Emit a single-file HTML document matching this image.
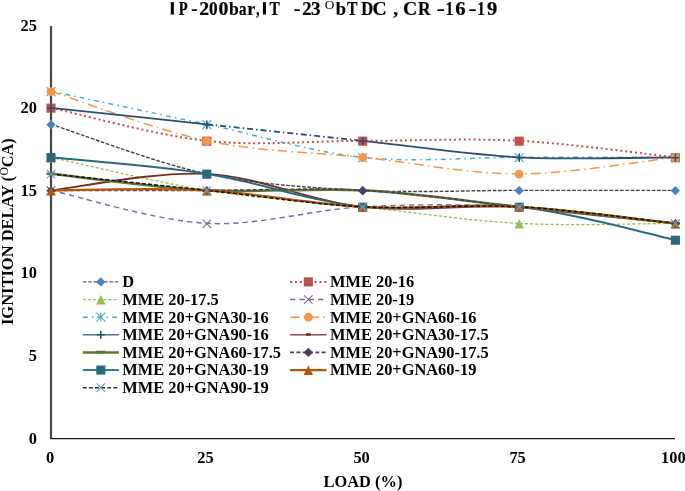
<!DOCTYPE html>
<html><head><meta charset="utf-8"><style>
html,body{margin:0;padding:0;background:#fff;}
svg{display:block;will-change:transform;}
text{font-family:"Liberation Serif",serif;font-weight:bold;fill:#000;}
</style></head><body>
<svg width="685" height="491" viewBox="0 0 685 491">
<rect width="685" height="491" fill="#fff"/>
<!-- title -->
<path d="M170.85,2.2 h3.0 v12.4 h-3.0Z M170.40,2.2 h3.9 v0.9 h-3.9Z M170.40,13.7 h3.9 v0.9 h-3.9Z" fill="#000"/><text transform="translate(178.80,0) scale(0.809,1)" x="0" y="14.8" font-size="18" stroke="#000" stroke-width="0.2">P</text><text transform="translate(192.40,0) scale(1.050,1)" x="-1" y="14.8" font-size="18" stroke="#000" stroke-width="0.2">-</text><text transform="translate(200.30,0) scale(1.100,1)" x="-1" y="14.8" font-size="18" stroke="#000" stroke-width="0.2">2</text><text transform="translate(210.00,0) scale(0.957,1)" x="-1" y="14.8" font-size="18" stroke="#000" stroke-width="0.2">0</text><text transform="translate(219.60,0) scale(1.100,1)" x="-1" y="14.8" font-size="18" stroke="#000" stroke-width="0.2">0</text><text transform="translate(230.00,0) scale(0.975,1)" x="-1" y="14.8" font-size="18" stroke="#000" stroke-width="0.2">b</text><text transform="translate(239.90,0) scale(0.825,1)" x="-1" y="14.8" font-size="18" stroke="#000" stroke-width="0.2">a</text><text transform="translate(248.20,0) scale(1.014,1)" x="-1" y="14.8" font-size="18" stroke="#000" stroke-width="0.2">r</text><text transform="translate(256.70,0) scale(0.800,1)" x="-1" y="14.8" font-size="18" stroke="#000" stroke-width="0.2">,</text><path d="M262.95,2.2 h3.0 v12.4 h-3.0Z M262.90,2.2 h3.0999999999999885 v0.9 h-3.0999999999999885Z M262.90,13.7 h3.0999999999999885 v0.9 h-3.0999999999999885Z" fill="#000"/><text transform="translate(269.40,0) scale(0.858,1)" x="0" y="14.8" font-size="18" stroke="#000" stroke-width="0.2">T</text><text transform="translate(294.80,0) scale(1.125,1)" x="-1" y="14.8" font-size="18" stroke="#000" stroke-width="0.2">-</text><text transform="translate(303.40,0) scale(1.043,1)" x="-1" y="14.8" font-size="18" stroke="#000" stroke-width="0.2">2</text><text transform="translate(312.10,0) scale(1.057,1)" x="-1" y="14.8" font-size="18" stroke="#000" stroke-width="0.2">3</text><text transform="translate(336.80,0) scale(1.025,1)" x="-1" y="14.8" font-size="18" stroke="#000" stroke-width="0.2">b</text><text transform="translate(347.00,0) scale(0.875,1)" x="0" y="14.8" font-size="18" stroke="#000" stroke-width="0.2">T</text><text transform="translate(361.30,0) scale(0.917,1)" x="0" y="14.8" font-size="18" stroke="#000" stroke-width="0.2">D</text><text transform="translate(373.60,0) scale(1.091,1)" x="-1" y="14.8" font-size="18" stroke="#000" stroke-width="0.2">C</text><text transform="translate(394.30,0) scale(1.100,1)" x="-1" y="14.8" font-size="18" stroke="#000" stroke-width="0.2">,</text><text transform="translate(404.20,0) scale(1.091,1)" x="-1" y="14.8" font-size="18" stroke="#000" stroke-width="0.2">C</text><text transform="translate(417.90,0) scale(0.969,1)" x="0" y="14.8" font-size="18" stroke="#000" stroke-width="0.2">R</text><text transform="translate(438.20,0) scale(1.350,1)" x="-1" y="14.8" font-size="18" stroke="#000" stroke-width="0.2">-</text><text transform="translate(447.30,0) scale(0.883,1)" x="-2" y="14.8" font-size="18" stroke="#000" stroke-width="0.2">1</text><text transform="translate(456.30,0) scale(1.150,1)" x="-1" y="14.8" font-size="18" stroke="#000" stroke-width="0.2">6</text><text transform="translate(469.90,0) scale(1.350,1)" x="-1" y="14.8" font-size="18" stroke="#000" stroke-width="0.2">-</text><text transform="translate(479.00,0) scale(0.850,1)" x="-2" y="14.8" font-size="18" stroke="#000" stroke-width="0.2">1</text><text transform="translate(488.10,0) scale(1.143,1)" x="-1" y="14.8" font-size="18" stroke="#000" stroke-width="0.2">9</text><text x="324.7" y="9.3" font-size="13.3" style="font-weight:normal">O</text>
<!-- y axis title -->
<text transform="translate(12.6,325) rotate(-90) translate(0.90,0) scale(0.9939,1)" x="-1" y="0" font-size="16.6">IGNITION DELAY (</text><text transform="translate(12.6,325) rotate(-90) translate(158.70,0) scale(0.9821,1)" x="-1" y="0" font-size="16.6">CA)</text><text transform="translate(12.6,325) rotate(-90)" x="149.4" y="-4.6" font-size="11.6" style="font-weight:normal">O</text>
<!-- y tick labels -->
<g font-size="16.4" text-anchor="end">
<text x="37" y="30.75">25</text>
<text x="37" y="113.30">20</text>
<text x="37" y="195.85">15</text>
<text x="37" y="278.40">10</text>
<text x="37" y="360.95">5</text>
<text x="37" y="443.50">0</text>
</g>
<!-- x tick labels -->
<g font-size="16.4" text-anchor="middle">
<text x="50.2" y="463.2">0</text>
<text x="205.4" y="463.2">25</text>
<text x="361.6" y="463.2">50</text>
<text x="517.6" y="463.2">75</text>
<text x="673.3" y="463.2">100</text>
</g>
<text x="323.6" y="486.5" font-size="16.4">LOAD (%)</text>
<!-- axes -->
<line x1="51" y1="26" x2="51" y2="439" stroke="#464646" stroke-width="2.2"/>
<line x1="50" y1="438.55" x2="675" y2="438.55" stroke="#1a1a1a" stroke-width="1.3"/>
<!-- series -->
<path d="M51.00,124.31 C76.97,132.56 154.85,162.83 206.80,173.84 C258.75,184.85 310.63,187.60 362.70,190.35 C414.77,193.10 467.08,190.35 519.20,190.35 C571.32,190.35 649.37,190.35 675.40,190.35" fill="none" stroke="#404040" stroke-width="1.4" stroke-dasharray="3.7 1.6" stroke-linejoin="round"/><path d="M51.00,107.80 C76.97,113.30 154.85,135.32 206.80,140.82 C258.75,146.32 310.63,140.82 362.70,140.82 C414.77,140.82 467.08,138.07 519.20,140.82 C571.32,143.57 649.37,154.58 675.40,157.33" fill="none" stroke="#C0504D" stroke-width="2.0" stroke-dasharray="2 2.9" stroke-linejoin="round"/><path d="M51.00,157.33 C76.97,162.83 154.85,182.09 206.80,190.35 C258.75,198.60 310.63,201.36 362.70,206.86 C414.77,212.36 467.08,220.62 519.20,223.37 C571.32,226.12 649.37,223.37 675.40,223.37" fill="none" stroke="#9BBB59" stroke-width="1.3" stroke-dasharray="3.1 2" stroke-linejoin="round"/><path d="M51.00,190.35 C76.97,195.85 154.85,220.62 206.80,223.37 C258.75,226.12 310.63,209.61 362.70,206.86 C414.77,204.11 467.08,204.11 519.20,206.86 C571.32,209.61 649.37,220.62 675.40,223.37" fill="none" stroke="#8064A2" stroke-width="1.4" stroke-dasharray="5.3 4" stroke-linejoin="round"/><path d="M51.00,91.29 C76.97,96.79 154.85,113.30 206.80,124.31 C258.75,135.32 310.63,151.83 362.70,157.33 C414.77,162.83 467.08,157.33 519.20,157.33 C571.32,157.33 649.37,157.33 675.40,157.33" fill="none" stroke="#4BACC6" stroke-width="1.5" stroke-dasharray="4.8 4.2 1.5 4.2" stroke-linejoin="round"/><path d="M51.00,91.29 C76.97,99.54 154.85,129.81 206.80,140.82 C258.75,151.83 310.63,151.83 362.70,157.33 C414.77,162.83 467.08,173.84 519.20,173.84 C571.32,173.84 649.37,160.08 675.40,157.33" fill="none" stroke="#F79646" stroke-width="1.5" stroke-dasharray="9.5 4.3 1.5 4.3" stroke-linejoin="round"/><path d="M51.00,107.80 C76.97,110.55 154.85,118.81 206.80,124.31" fill="none" stroke="#2C4D75" stroke-width="1.8" stroke-linejoin="round"/><path d="M206.80,124.31 C258.75,129.81 310.63,135.32 362.70,140.82" fill="none" stroke="#2C4D75" stroke-width="1.8" stroke-dasharray="6 3 1.5 3" stroke-linejoin="round"/><path d="M362.70,140.82 C414.77,146.32 467.08,154.58 519.20,157.33 M519.20,157.33 C571.32,160.08 649.37,157.33 675.40,157.33" fill="none" stroke="#2C4D75" stroke-width="1.8" stroke-linejoin="round"/><path d="M51.00,190.35 C76.97,187.60 154.85,171.09 206.80,173.84 C258.75,176.59 310.63,201.36 362.70,206.86 C414.77,212.36 467.08,204.11 519.20,206.86 C571.32,209.61 649.37,220.62 675.40,223.37" fill="none" stroke="#772C2A" stroke-width="1.8" stroke-linejoin="round"/><path d="M51.00,173.84 C76.97,176.59 154.85,187.60 206.80,190.35 C258.75,193.10 310.63,187.60 362.70,190.35 C414.77,193.10 467.08,201.36 519.20,206.86 C571.32,212.36 649.37,220.62 675.40,223.37" fill="none" stroke="#5F7530" stroke-width="2.5" stroke-linejoin="round"/><path d="M51.00,190.35 C76.97,190.35 154.85,190.35 206.80,190.35 C258.75,190.35 310.63,187.60 362.70,190.35 C414.77,193.10 467.08,201.36 519.20,206.86 C571.32,212.36 649.37,220.62 675.40,223.37" fill="none" stroke="#4D3B62" stroke-width="1.6" stroke-dasharray="4 2.3" stroke-linejoin="round"/><path d="M51.00,157.33 C76.97,160.08 154.85,165.58 206.80,173.84 C258.75,182.09 310.63,201.36 362.70,206.86 C414.77,212.36 467.08,201.36 519.20,206.86 C571.32,212.36 649.37,234.38 675.40,239.88" fill="none" stroke="#276A7C" stroke-width="2.0" stroke-linejoin="round"/><path d="M51.00,190.35 C76.97,190.35 154.85,187.60 206.80,190.35 C258.75,193.10 310.63,204.11 362.70,206.86 C414.77,209.61 467.08,204.11 519.20,206.86 C571.32,209.61 649.37,220.62 675.40,223.37" fill="none" stroke="#B65708" stroke-width="2.2" stroke-linejoin="round"/><path d="M51.00,173.84 C76.97,176.59 154.85,184.85 206.80,190.35 C258.75,195.85 310.63,204.11 362.70,206.86 C414.77,209.61 467.08,204.11 519.20,206.86 C571.32,209.61 649.37,220.62 675.40,223.37" fill="none" stroke="#111111" stroke-width="1.5" stroke-dasharray="4 2.1" stroke-linejoin="round"/>
<path d="M51.00,120.01 L55.65,124.66 L51.00,129.31 L46.35,124.66Z" fill="#4F81BD"/><path d="M206.80,169.54 L211.45,174.19 L206.80,178.84 L202.15,174.19Z" fill="#4F81BD"/><path d="M362.70,186.05 L367.35,190.70 L362.70,195.35 L358.05,190.70Z" fill="#4F81BD"/><path d="M519.20,186.05 L523.85,190.70 L519.20,195.35 L514.55,190.70Z" fill="#4F81BD"/><path d="M675.40,186.05 L680.05,190.70 L675.40,195.35 L670.75,190.70Z" fill="#4F81BD"/><rect x="46.45" y="103.60" width="9.1" height="9.1" fill="#C0504D"/><rect x="202.25" y="136.62" width="9.1" height="9.1" fill="#C0504D"/><rect x="358.15" y="136.62" width="9.1" height="9.1" fill="#C0504D"/><rect x="514.65" y="136.62" width="9.1" height="9.1" fill="#C0504D"/><rect x="670.85" y="153.13" width="9.1" height="9.1" fill="#C0504D"/><path d="M51.00,153.18 L55.70,162.58 L46.30,162.58Z" fill="#9BBB59"/><path d="M206.80,186.20 L211.50,195.60 L202.10,195.60Z" fill="#9BBB59"/><path d="M362.70,202.71 L367.40,212.11 L358.00,212.11Z" fill="#9BBB59"/><path d="M519.20,219.22 L523.90,228.62 L514.50,228.62Z" fill="#9BBB59"/><path d="M675.40,219.22 L680.10,228.62 L670.70,228.62Z" fill="#9BBB59"/><path d="M46.80,186.50 L55.20,194.90 M55.20,186.50 L46.80,194.90" stroke="#8064A2" stroke-width="1.1" fill="none"/><path d="M202.60,219.52 L211.00,227.92 M211.00,219.52 L202.60,227.92" stroke="#8064A2" stroke-width="1.1" fill="none"/><path d="M358.50,203.01 L366.90,211.41 M366.90,203.01 L358.50,211.41" stroke="#8064A2" stroke-width="1.1" fill="none"/><path d="M515.00,203.01 L523.40,211.41 M523.40,203.01 L515.00,211.41" stroke="#8064A2" stroke-width="1.1" fill="none"/><path d="M671.20,219.52 L679.60,227.92 M679.60,219.52 L671.20,227.92" stroke="#8064A2" stroke-width="1.1" fill="none"/><path d="M46.50,87.14 L55.50,96.14 M55.50,87.14 L46.50,96.14 M51.00,87.14 L51.00,96.14" stroke="#4BACC6" stroke-width="1.1" fill="none"/><path d="M202.30,120.16 L211.30,129.16 M211.30,120.16 L202.30,129.16 M206.80,120.16 L206.80,129.16" stroke="#4BACC6" stroke-width="1.1" fill="none"/><path d="M358.20,153.18 L367.20,162.18 M367.20,153.18 L358.20,162.18 M362.70,153.18 L362.70,162.18" stroke="#4BACC6" stroke-width="1.1" fill="none"/><path d="M514.70,153.18 L523.70,162.18 M523.70,153.18 L514.70,162.18 M519.20,153.18 L519.20,162.18" stroke="#4BACC6" stroke-width="1.1" fill="none"/><path d="M670.90,153.18 L679.90,162.18 M679.90,153.18 L670.90,162.18 M675.40,153.18 L675.40,162.18" stroke="#4BACC6" stroke-width="1.1" fill="none"/><circle cx="51.00" cy="91.64" r="4.35" fill="#F79646"/><circle cx="206.80" cy="141.17" r="4.35" fill="#F79646"/><circle cx="362.70" cy="157.68" r="4.35" fill="#F79646"/><circle cx="519.20" cy="174.19" r="4.35" fill="#F79646"/><circle cx="675.40" cy="157.68" r="4.35" fill="#F79646"/><path d="M47.00,108.15 L55.00,108.15 M51.00,104.15 L51.00,112.15" stroke="#2C4D75" stroke-width="1.6" fill="none"/><path d="M202.80,124.66 L210.80,124.66 M206.80,120.66 L206.80,128.66" stroke="#2C4D75" stroke-width="1.6" fill="none"/><path d="M358.70,141.17 L366.70,141.17 M362.70,137.17 L362.70,145.17" stroke="#2C4D75" stroke-width="1.6" fill="none"/><path d="M515.20,157.68 L523.20,157.68 M519.20,153.68 L519.20,161.68" stroke="#2C4D75" stroke-width="1.6" fill="none"/><path d="M671.40,157.68 L679.40,157.68 M675.40,153.68 L675.40,161.68" stroke="#2C4D75" stroke-width="1.6" fill="none"/><rect x="48.70" y="189.10" width="4.6" height="2.6" fill="#772C2A"/><rect x="204.50" y="172.59" width="4.6" height="2.6" fill="#772C2A"/><rect x="360.40" y="205.61" width="4.6" height="2.6" fill="#772C2A"/><rect x="516.90" y="205.61" width="4.6" height="2.6" fill="#772C2A"/><rect x="673.10" y="222.12" width="4.6" height="2.6" fill="#772C2A"/><rect x="46.50" y="172.49" width="9" height="2.6" fill="#5F7530"/><rect x="202.30" y="189.00" width="9" height="2.6" fill="#5F7530"/><rect x="358.20" y="189.00" width="9" height="2.6" fill="#5F7530"/><rect x="514.70" y="205.51" width="9" height="2.6" fill="#5F7530"/><rect x="670.90" y="222.02" width="9" height="2.6" fill="#5F7530"/><path d="M51.00,186.05 L55.65,190.70 L51.00,195.35 L46.35,190.70Z" fill="#4D3B62"/><path d="M206.80,186.05 L211.45,190.70 L206.80,195.35 L202.15,190.70Z" fill="#4D3B62"/><path d="M362.70,186.05 L367.35,190.70 L362.70,195.35 L358.05,190.70Z" fill="#4D3B62"/><path d="M519.20,202.56 L523.85,207.21 L519.20,211.86 L514.55,207.21Z" fill="#4D3B62"/><path d="M675.40,219.07 L680.05,223.72 L675.40,228.37 L670.75,223.72Z" fill="#4D3B62"/><rect x="46.45" y="153.13" width="9.1" height="9.1" fill="#276A7C"/><rect x="202.25" y="169.64" width="9.1" height="9.1" fill="#276A7C"/><rect x="358.15" y="202.66" width="9.1" height="9.1" fill="#276A7C"/><rect x="514.65" y="202.66" width="9.1" height="9.1" fill="#276A7C"/><rect x="670.85" y="235.68" width="9.1" height="9.1" fill="#276A7C"/><path d="M51.00,186.20 L55.70,195.60 L46.30,195.60Z" fill="#B65708"/><path d="M206.80,186.20 L211.50,195.60 L202.10,195.60Z" fill="#B65708"/><path d="M362.70,202.71 L367.40,212.11 L358.00,212.11Z" fill="#B65708"/><path d="M519.20,202.71 L523.90,212.11 L514.50,212.11Z" fill="#B65708"/><path d="M675.40,219.22 L680.10,228.62 L670.70,228.62Z" fill="#B65708"/><path d="M46.80,169.99 L55.20,178.39 M55.20,169.99 L46.80,178.39" stroke="#729ACA" stroke-width="1.1" fill="none"/><path d="M202.60,186.50 L211.00,194.90 M211.00,186.50 L202.60,194.90" stroke="#729ACA" stroke-width="1.1" fill="none"/><path d="M358.50,203.01 L366.90,211.41 M366.90,203.01 L358.50,211.41" stroke="#729ACA" stroke-width="1.1" fill="none"/><path d="M515.00,203.01 L523.40,211.41 M523.40,203.01 L515.00,211.41" stroke="#729ACA" stroke-width="1.1" fill="none"/><path d="M671.20,219.52 L679.60,227.92 M679.60,219.52 L671.20,227.92" stroke="#729ACA" stroke-width="1.1" fill="none"/>
<!-- legend -->
<g font-size="16.4">
<path d="M82.8,281.90 L118.9,281.90" fill="none" stroke="#666666" stroke-width="1.4" stroke-dasharray="3.7 1.6" stroke-linejoin="round"/><path d="M100.85,277.25 L105.50,281.90 L100.85,286.55 L96.20,281.90Z" fill="#4F81BD"/><text x="122.3" y="287.30">D</text><path d="M290.1,281.90 L326.6,281.90" fill="none" stroke="#C0504D" stroke-width="2.0" stroke-dasharray="2 2.9" stroke-linejoin="round"/><rect x="303.80" y="277.35" width="9.1" height="9.1" fill="#C0504D"/><text x="330.0" y="287.30">MME 20-16</text><path d="M82.8,299.53 L118.9,299.53" fill="none" stroke="#9BBB59" stroke-width="1.3" stroke-dasharray="3.1 2" stroke-linejoin="round"/><path d="M100.85,295.03 L105.55,304.43 L96.15,304.43Z" fill="#9BBB59"/><text x="122.3" y="304.93">MME 20-17.5</text><path d="M290.1,299.53 L326.6,299.53" fill="none" stroke="#8064A2" stroke-width="1.4" stroke-dasharray="5.3 4" stroke-linejoin="round"/><path d="M304.15,295.33 L312.55,303.73 M312.55,295.33 L304.15,303.73" stroke="#8064A2" stroke-width="1.1" fill="none"/><text x="330.0" y="304.93">MME 20-19</text><path d="M82.8,317.16 L118.9,317.16" fill="none" stroke="#4BACC6" stroke-width="1.5" stroke-dasharray="4.8 4.2 1.5 4.2" stroke-linejoin="round"/><path d="M96.35,312.66 L105.35,321.66 M105.35,312.66 L96.35,321.66 M100.85,312.66 L100.85,321.66" stroke="#4BACC6" stroke-width="1.1" fill="none"/><text x="122.3" y="322.56">MME 20+GNA30-16</text><path d="M290.1,317.16 L326.6,317.16" fill="none" stroke="#F79646" stroke-width="1.5" stroke-dasharray="9.5 4.3 1.5 4.3" stroke-linejoin="round"/><circle cx="308.35" cy="317.16" r="4.35" fill="#F79646"/><text x="330.0" y="322.56">MME 20+GNA60-16</text><path d="M82.8,334.79 L118.9,334.79" fill="none" stroke="#4F6F9C" stroke-width="1.5" stroke-linejoin="round"/><path d="M96.85,334.79 L104.85,334.79 M100.85,330.79 L100.85,338.79" stroke="#2C4D75" stroke-width="1.6" fill="none"/><text x="122.3" y="340.19">MME 20+GNA90-16</text><path d="M290.1,334.79 L326.6,334.79" fill="none" stroke="#8E4E4C" stroke-width="1.5" stroke-linejoin="round"/><rect x="306.05" y="333.19" width="4.6" height="2.6" fill="#772C2A"/><text x="330.0" y="340.19">MME 20+GNA30-17.5</text><path d="M82.8,352.42 L118.9,352.42" fill="none" stroke="#5F7530" stroke-width="2.5" stroke-linejoin="round"/><rect x="96.35" y="350.72" width="9" height="2.6" fill="#5F7530"/><text x="122.3" y="357.82">MME 20+GNA60-17.5</text><path d="M290.1,352.42 L326.6,352.42" fill="none" stroke="#4D3B62" stroke-width="1.6" stroke-dasharray="4 2.3" stroke-linejoin="round"/><path d="M308.35,347.77 L313.00,352.42 L308.35,357.07 L303.70,352.42Z" fill="#4D3B62"/><text x="330.0" y="357.82">MME 20+GNA90-17.5</text><path d="M82.8,370.05 L118.9,370.05" fill="none" stroke="#3A7C8E" stroke-width="2.0" stroke-linejoin="round"/><rect x="96.30" y="365.50" width="9.1" height="9.1" fill="#276A7C"/><text x="122.3" y="375.45">MME 20+GNA30-19</text><path d="M290.1,370.05 L326.6,370.05" fill="none" stroke="#B65708" stroke-width="2.2" stroke-linejoin="round"/><path d="M308.35,365.55 L313.05,374.95 L303.65,374.95Z" fill="#B65708"/><text x="330.0" y="375.45">MME 20+GNA60-19</text><path d="M82.8,387.68 L118.9,387.68" fill="none" stroke="#333333" stroke-width="1.5" stroke-dasharray="4 2.1" stroke-linejoin="round"/><path d="M96.65,383.48 L105.05,391.88 M105.05,383.48 L96.65,391.88" stroke="#729ACA" stroke-width="1.1" fill="none"/><text x="122.3" y="393.08">MME 20+GNA90-19</text>
</g>
</svg>
</body></html>
